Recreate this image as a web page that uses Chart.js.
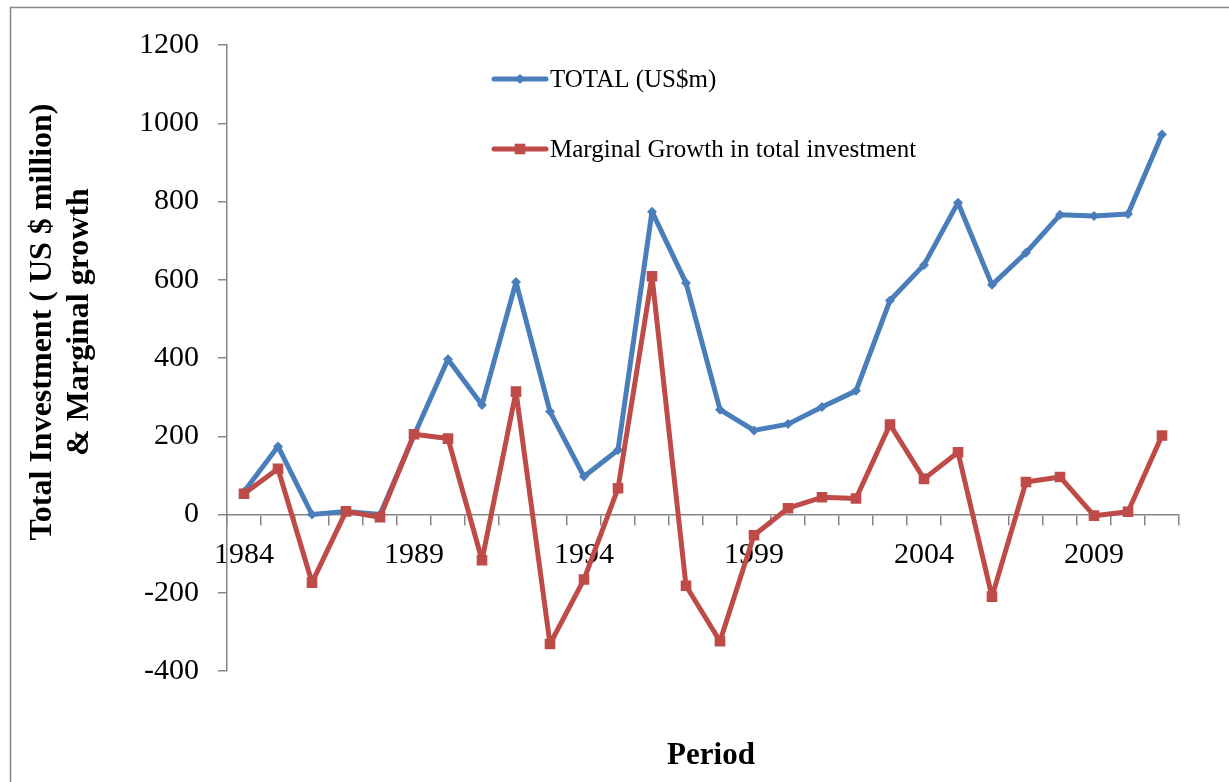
<!DOCTYPE html>
<html>
<head>
<meta charset="utf-8">
<script src="https://cdn.jsdelivr.net/npm/chart.js@4.4.1/dist/chart.umd.min.js"></script>
<style>
  html, body { margin: 0; padding: 0; background: #fff; }
  canvas { display: block; }
</style>
</head>
<body>
<canvas id="investChart" width="1229" height="782"></canvas>
<script>
  // yearly figures, US$ million
  const years = ['1984','1985','1986','1987','1988','1989','1990','1991','1992','1993',
                 '1994','1995','1996','1997','1998','1999','2000','2001','2002','2003',
                 '2004','2005','2006','2007','2008','2009','2010','2011'];
  const totalInvestment = [58, 174, 0, 8, 0, 202, 397, 280, 594, 263,
                           97, 165, 774, 592, 268, 215, 231, 275, 316, 547,
                           638, 797, 587, 669, 766, 763, 768, 971];
  const marginalGrowth = [53, 117, -174, 8, -7, 205, 194, -117, 314, -331,
                          -166, 67, 609, -182, -324, -53, 16, 44, 41, 230,
                          91, 159, -210, 83, 96, -3, 7, 202];
  const yearTicks = ['1984','1989','1994','1999','2004','2009'];
  const valueTicks = [-400, -200, 0, 200, 400, 600, 800, 1000, 1200];

  const yTitle = ['Total Investment ( US $ million)', '& Marginal growth'];
  const xTitle = 'Period';

  const BLUE = '#4A7EBB';
  const RED = '#BE4B48';
  const AXIS = '#868686';
  const SERIF = '"Liberation Serif", "Times New Roman", serif';

  function marker(ctx, style, x, y, r, color) {
    ctx.fillStyle = color;
    ctx.beginPath();
    if (style === 'rectRot') {
      ctx.moveTo(x, y - r); ctx.lineTo(x + r, y); ctx.lineTo(x, y + r); ctx.lineTo(x - r, y);
      ctx.closePath();
    } else {
      const s = r * Math.SQRT1_2;
      ctx.rect(x - s, y - s, s * 2, s * 2);
    }
    ctx.fill();
  }

  // outer frame, axis titles and the in-plot legend
  const decorations = {
    id: 'decorations',
    beforeDraw(chart) {
      const ctx = chart.ctx;
      ctx.save();
      ctx.fillStyle = '#fff';
      ctx.fillRect(0, 0, chart.width, chart.height);
      ctx.strokeStyle = AXIS;
      ctx.lineWidth = 1.5;
      ctx.strokeRect(10.5, 7.5, chart.width, chart.height);
      ctx.restore();
    },
    afterDraw(chart) {
      const {ctx, chartArea} = chart;
      ctx.save();
      ctx.fillStyle = '#000';
      ctx.textAlign = 'center';
      ctx.textBaseline = 'middle';
      ctx.font = 'bold 31px ' + SERIF;
      ctx.fillText(xTitle, (chartArea.left + chartArea.right) / 2 + 8, 756);

      ctx.save();
      ctx.translate(43, 322);
      ctx.rotate(-Math.PI / 2);
      ctx.font = 'bold 32px ' + SERIF;
      yTitle.forEach((line, i) => ctx.fillText(line, 0, i * 37));
      ctx.restore();

      // legend rows
      ctx.font = '25px ' + SERIF;
      ctx.textAlign = 'left';
      chart.data.datasets.forEach((ds, i) => {
        const y = 79 + i * 70;
        ctx.strokeStyle = ds.borderColor;
        ctx.lineWidth = ds.borderWidth;
        ctx.lineCap = 'round';
        ctx.beginPath();
        ctx.moveTo(494, y);
        ctx.lineTo(546, y);
        ctx.stroke();
        marker(ctx, ds.pointStyle, 520, y, ds.pointRadius, ds.borderColor);
        ctx.fillStyle = '#000';
        ctx.fillText(ds.label, 550, y + 1);
      });
      ctx.restore();
    }
  };

  new Chart(document.getElementById('investChart'), {
    type: 'line',
    data: {
      labels: years,
      datasets: [{
        label: 'TOTAL (US$m)',
        data: totalInvestment,
        borderColor: BLUE,
        backgroundColor: BLUE,
        borderWidth: 5,
        borderJoinStyle: 'round',
        pointStyle: 'rectRot',
        pointRadius: 5,
        pointBorderWidth: 0,
        tension: 0,
        order: 1
      }, {
        label: 'Marginal Growth in total investment',
        data: marginalGrowth,
        borderColor: RED,
        backgroundColor: RED,
        borderWidth: 5,
        borderJoinStyle: 'round',
        pointStyle: 'rect',
        pointRadius: 7.5,
        pointBorderWidth: 0,
        tension: 0,
        order: 0
      }]
    },
    options: {
      responsive: false,
      animation: false,
      events: [],
      layout: { padding: { top: 45, right: 50, bottom: 111, left: 0 } },
      plugins: {
        legend: { display: false },
        tooltip: { enabled: false }
      },
      scales: {
        x: {
          type: 'category',
          position: { y: 0 },
          offset: true,
          grid: {
            offset: true,
            drawOnChartArea: false,
            drawTicks: true,
            tickLength: 10,
            color: AXIS,
            lineWidth: 1.5
          },
          border: { display: true, color: AXIS, width: 1.5 },
          ticks: {
            autoSkip: false,
            maxRotation: 0,
            padding: 13,
            color: '#000',
            font: { family: SERIF, size: 30 },
            callback: function (value, index) {
              const lbl = years[index];
              return yearTicks.includes(lbl) ? lbl : '';
            }
          }
        },
        y: {
          min: valueTicks[0],
          max: valueTicks[valueTicks.length - 1],
          afterFit(scale) { scale.width = 227; },
          afterBuildTicks(scale) { scale.ticks = valueTicks.map(v => ({ value: v })); },
          grid: {
            drawOnChartArea: false,
            drawTicks: true,
            tickLength: 9,
            color: AXIS,
            lineWidth: 1.5
          },
          border: { display: true, color: AXIS, width: 1.5 },
          ticks: {
            padding: 19,
            color: '#000',
            font: { family: SERIF, size: 30 },
            callback: value => String(value)
          }
        }
      }
    },
    plugins: [decorations]
  });
</script>
</body>
</html>
